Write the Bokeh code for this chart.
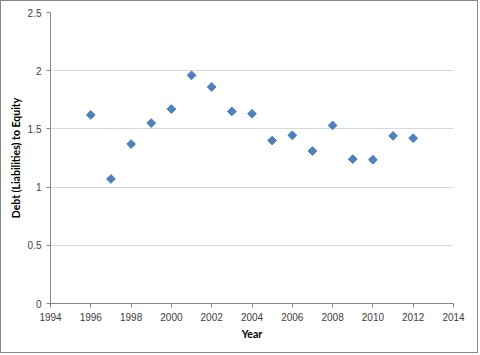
import math
from bokeh.plotting import figure
from bokeh.models import Range1d, FixedTicker, NumeralTickFormatter
from bokeh.embed import file_html
from bokeh.resources import INLINE

years = [1996, 1997, 1998, 1999, 2000, 2001, 2002, 2003, 2004, 2005, 2006, 2007, 2008, 2009, 2010, 2011, 2012]
debt_to_equity = [1.62, 1.07, 1.37, 1.55, 1.67, 1.96, 1.86, 1.65, 1.63, 1.40, 1.445, 1.31, 1.53, 1.24, 1.235, 1.44, 1.42]
x_ticks = [1994, 1996, 1998, 2000, 2002, 2004, 2006, 2008, 2010, 2012, 2014]
y_ticks = [0, 0.5, 1, 1.5, 2, 2.5]

FONT = "Liberation Sans"
TITLE_FONT = "Lato"

p = figure(width=478, height=353, output_backend="svg", toolbar_location=None,
           x_range=Range1d(1994, 2014), y_range=Range1d(0, 2.5),
           min_border_left=49, min_border_right=26, min_border_top=11, min_border_bottom=51)
p.styles = {"border": "1px solid #868686"}
p.outline_line_color = None
p.background_fill_color = "white"
p.border_fill_color = "white"

p.scatter(years, debt_to_equity, marker="square", size=6.2, angle=math.pi / 4,
          fill_color="#4F81BD", line_color="#4A7EBB", line_width=1)

for ax in (p.xaxis[0], p.yaxis[0]):
    ax.axis_line_color = "#868686"
    ax.major_tick_line_color = "#868686"
    ax.major_tick_in = 0
    ax.major_tick_out = 4
    ax.minor_tick_line_color = None
    ax.major_label_text_font = FONT
    ax.major_label_text_font_size = "10px"
    ax.major_label_text_color = "#404040"
    ax.axis_label_text_font = TITLE_FONT
    ax.axis_label_text_font_size = "10.5px"
    ax.axis_label_text_font_style = "bold"
    ax.axis_label_text_color = "#000000"

p.xaxis.ticker = FixedTicker(ticks=x_ticks)
p.yaxis.ticker = FixedTicker(ticks=y_ticks)
p.yaxis.formatter = NumeralTickFormatter(format="0.[0]")
p.xaxis.axis_label = "Year"
p.yaxis.axis_label = "Debt (Liabilities) to Equity"
p.xaxis.major_label_standoff = 5
p.yaxis.major_label_standoff = 5
p.xaxis.axis_label_standoff = 4
p.yaxis.axis_label_standoff = 3

p.xgrid.grid_line_color = None
p.ygrid.grid_line_color = "#D9D9D9"
p.ygrid.ticker = FixedTicker(ticks=y_ticks)

open("out.html", "w").write(file_html(p, INLINE))
